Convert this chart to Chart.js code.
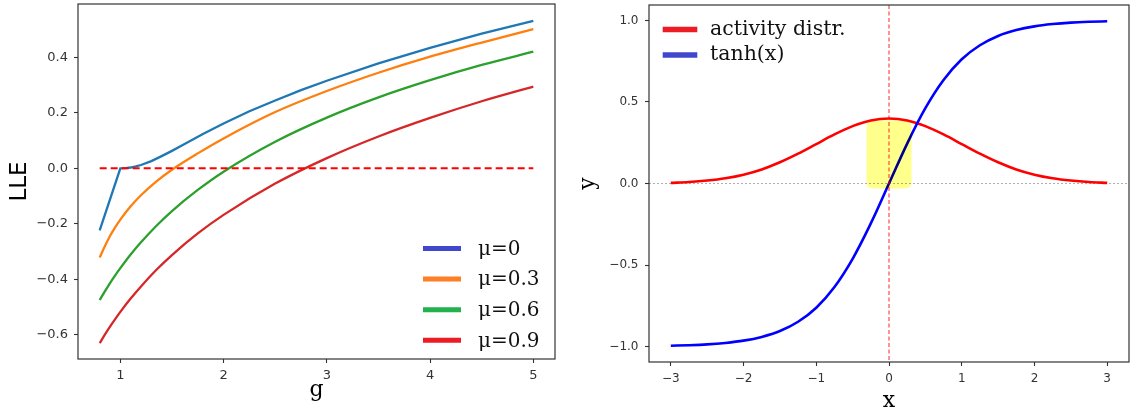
<!DOCTYPE html>
<html>
<head>
<meta charset="utf-8">
<script src="https://cdn.jsdelivr.net/npm/chart.js@4.4.1/dist/chart.umd.min.js"></script>
<style>
  html, body { margin: 0; padding: 0; background: #fff; }
  #wrap { position: relative; width: 1130px; height: 407px; overflow: hidden; }
  .panel { position: absolute; top: 0; width: 565px; height: 407px; }
  #left { left: 0; }
  #right { left: 565px; }
</style>
</head>
<body>
<div id="wrap">
  <div class="panel" id="left"><canvas id="lle" width="565" height="407"></canvas></div>
  <div class="panel" id="right"><canvas id="act" width="565" height="407"></canvas></div>
</div>
<script>
// ---- Left panel: largest Lyapunov exponent against the gain g ----
const gSmooth = [0.8, 0.85, 0.9, 0.95, 1.0, 1.1, 1.2, 1.35, 1.5, 1.75, 2.0, 2.5, 3.0, 3.5, 4.0, 4.5, 5.0];
const lleMu03 = [-0.322, -0.281, -0.244, -0.213, -0.185, -0.137, -0.097, -0.047, -0.005, 0.054, 0.108, 0.203, 0.279, 0.345, 0.403, 0.454, 0.502];
const lleMu06 = [-0.475, -0.444, -0.414, -0.386, -0.360, -0.311, -0.267, -0.207, -0.154, -0.078, -0.012, 0.096, 0.183, 0.256, 0.318, 0.373, 0.421];
const lleMu09 = [-0.631, -0.600, -0.571, -0.544, -0.518, -0.470, -0.426, -0.366, -0.313, -0.235, -0.168, -0.055, 0.037, 0.115, 0.182, 0.242, 0.295];
// mu = 0 has a corner at g = 1, so it is sampled on its own grid and drawn with straight segments
const gMu0 = [0.8, 1.0, 1.05, 1.1, 1.15, 1.2, 1.3, 1.4, 1.5, 1.6, 1.8, 2.0, 2.25, 2.5, 2.75, 3.0, 3.5, 4.0, 4.5, 5.0];
const lleMu0 = [-0.224, 0.0, 0.001, 0.003, 0.007, 0.012, 0.026, 0.044, 0.063, 0.083, 0.124, 0.162, 0.206, 0.245, 0.282, 0.316, 0.379, 0.435, 0.486, 0.532];

const muLabels = ['\u03bc=0', '\u03bc=0.3', '\u03bc=0.6', '\u03bc=0.9'];
const lineColors = ['#1f77b4', '#ff7f0e', '#2ca02c', '#d62728'];
const legendColors = ['#3f48cc', '#ff7f27', '#22b14c', '#ed1c24'];

const gTicks = [1, 2, 3, 4, 5];
const gTickLabels = ['1', '2', '3', '4', '5'];
const lleTicks = [-0.6, -0.4, -0.2, 0.0, 0.2, 0.4];
const lleTickLabels = ['\u22120.6', '\u22120.4', '\u22120.2', '0.0', '0.2', '0.4'];
const lleThreshold = 0.0;

// ---- Right panel: activity distribution and the tanh nonlinearity ----
const xGrid = [-3, -2.75, -2.5, -2.25, -2, -1.75, -1.5, -1.25, -1, -0.75, -0.5, -0.25, 0,
               0.25, 0.5, 0.75, 1, 1.25, 1.5, 1.75, 2, 2.25, 2.5, 2.75, 3];
const activityDistr = [0.004, 0.009, 0.018, 0.032, 0.054, 0.086, 0.130, 0.183, 0.242, 0.301, 0.352, 0.387, 0.399,
                       0.387, 0.352, 0.301, 0.242, 0.183, 0.130, 0.086, 0.054, 0.032, 0.018, 0.009, 0.004];
const tanhValues = [-0.995, -0.992, -0.987, -0.978, -0.964, -0.941, -0.905, -0.848, -0.762, -0.635, -0.462, -0.245, 0.0,
                    0.245, 0.462, 0.635, 0.762, 0.848, 0.905, 0.941, 0.964, 0.978, 0.987, 0.992, 0.995];
const actLabels = ['activity distr.', 'tanh(x)'];
const actLineColors = ['#ff0000', '#0000ff'];
const actLegendColors = ['#ed1c24', '#3f48cc'];

const xTicks = [-3, -2, -1, 0, 1, 2, 3];
const xTickLabels = ['\u22123', '\u22122', '\u22121', '0', '1', '2', '3'];
const yTicks = [-1.0, -0.5, 0.0, 0.5, 1.0];
const yTickLabels = ['\u22121.0', '\u22120.5', '0.0', '0.5', '1.0'];

// near-linear band of tanh around the origin
const bandX = [-0.31, 0.31];
const bandY = [-0.031, 0.387];
const centreX = 0.0;
const baselineY = 0.0;

const pairs = (xs, ys) => xs.map((x, i) => ({ x: x, y: ys[i] }));

// full box around the plotting area
const frame = {
  id: 'frame',
  afterDraw(chart, args, o) {
    const { ctx, chartArea: a } = chart;
    ctx.save();
    ctx.strokeStyle = o.color;
    ctx.lineWidth = o.width;
    ctx.strokeRect(a.left, a.top, a.right - a.left, a.bottom - a.top);
    ctx.restore();
  }
};

// legend drawn inside the axes, without a box
const inlineLegend = {
  id: 'inlineLegend',
  afterDraw(chart, args, o) {
    const { ctx, chartArea: a } = chart;
    ctx.save();
    ctx.font = o.size + 'px ' + o.family;
    ctx.textBaseline = 'middle';
    ctx.textAlign = 'left';
    o.labels.forEach((text, i) => {
      const y = a.top + o.top + i * o.step;
      const x0 = a.left + o.left;
      ctx.strokeStyle = o.colors[i];
      ctx.lineWidth = o.lineWidth;
      ctx.lineCap = 'butt';
      ctx.beginPath();
      ctx.moveTo(x0, y);
      ctx.lineTo(x0 + o.swatch, y);
      ctx.stroke();
      ctx.fillStyle = o.textColor;
      ctx.fillText(text, x0 + o.swatch + o.gap, y + o.textShift);
    });
    ctx.restore();
  }
};

// reference lines and the highlighted band on the right panel
const guides = {
  id: 'guides',
  beforeDatasetsDraw(chart) {
    const { ctx, chartArea: a, scales } = chart;
    const y0 = scales.y.getPixelForValue(baselineY);
    ctx.save();
    ctx.strokeStyle = 'rgba(0,0,0,0.4)';
    ctx.lineWidth = 0.8;
    ctx.setLineDash([2, 2]);
    ctx.beginPath();
    ctx.moveTo(a.left, y0);
    ctx.lineTo(a.right, y0);
    ctx.stroke();
    ctx.restore();
  },
  afterDatasetsDraw(chart) {
    const { ctx, chartArea: a, scales } = chart;
    const xc = scales.x.getPixelForValue(centreX);
    ctx.save();
    ctx.strokeStyle = 'rgba(255,0,0,0.65)';
    ctx.lineWidth = 1.3;
    ctx.setLineDash([4, 2.5]);
    ctx.beginPath();
    ctx.moveTo(xc, a.top);
    ctx.lineTo(xc, a.bottom);
    ctx.stroke();
    ctx.restore();

    const l = scales.x.getPixelForValue(bandX[0]);
    const r = scales.x.getPixelForValue(bandX[1]);
    const t = scales.y.getPixelForValue(bandY[1]);
    const b = scales.y.getPixelForValue(bandY[0]);
    const rad = 7;
    ctx.save();
    ctx.globalCompositeOperation = 'multiply';
    ctx.fillStyle = 'rgb(255,255,140)';
    ctx.beginPath();
    ctx.moveTo(l + rad, t);
    ctx.lineTo(r - rad, t);
    ctx.quadraticCurveTo(r, t, r, t + rad);
    ctx.lineTo(r, b - rad);
    ctx.quadraticCurveTo(r, b, r - rad, b);
    ctx.lineTo(l + rad, b);
    ctx.quadraticCurveTo(l, b, l, b - rad);
    ctx.lineTo(l, t + rad);
    ctx.quadraticCurveTo(l, t, l + rad, t);
    ctx.closePath();
    ctx.fill();
    ctx.restore();
  }
};

const tickFont = (size) => ({ family: 'DejaVu Sans', size: size });
const axisGrid = { display: true, drawOnChartArea: false, drawTicks: true, tickLength: 4, tickWidth: 1.1, tickColor: '#333' };

// fixed axis band sizes; tick labels never push the plotting area inwards
const fixY = (w) => (s) => { s.width = w; s.paddingTop = 0; s.paddingBottom = 0; };
const fixX = (h) => (s) => { s.height = h; s.paddingLeft = 0; s.paddingRight = 0; };

new Chart(document.getElementById('lle'), {
  type: 'line',
  data: {
    datasets: [
      { label: muLabels[0], data: pairs(gMu0, lleMu0), borderColor: lineColors[0], borderWidth: 2.3, tension: 0, order: 4 },
      { label: muLabels[1], data: pairs(gSmooth, lleMu03), borderColor: lineColors[1], borderWidth: 2.3, cubicInterpolationMode: 'monotone', order: 3 },
      { label: muLabels[2], data: pairs(gSmooth, lleMu06), borderColor: lineColors[2], borderWidth: 2.3, cubicInterpolationMode: 'monotone', order: 2 },
      { label: muLabels[3], data: pairs(gSmooth, lleMu09), borderColor: lineColors[3], borderWidth: 2.3, cubicInterpolationMode: 'monotone', order: 1 },
      { label: 'threshold', data: [{ x: gSmooth[0], y: lleThreshold }, { x: gSmooth[gSmooth.length - 1], y: lleThreshold }],
        borderColor: '#ff0000', borderWidth: 2, borderDash: [7, 4], tension: 0, order: 0 }
    ]
  },
  options: {
    responsive: false,
    animation: false,
    devicePixelRatio: 1,
    elements: { point: { radius: 0 }, line: { fill: false, borderCapStyle: 'butt' } },
    layout: { autoPadding: false, padding: { left: 0, top: 4, right: 10, bottom: 0 } },
    plugins: {
      legend: { display: false },
      tooltip: { enabled: false },
      frame: { color: '#333', width: 1.2 },
      inlineLegend: {
        labels: muLabels, colors: legendColors, family: '"DejaVu Serif"', size: 20, textColor: '#111',
        left: 345, top: 244.5, step: 30.6, swatch: 38, gap: 17, lineWidth: 5, textShift: 1
      }
    },
    scales: {
      x: {
        type: 'linear', min: 0.59, max: 5.21,
        afterFit: fixX(48),
        afterBuildTicks: (s) => { s.ticks = gTicks.map(v => ({ value: v })); },
        ticks: { font: tickFont(13), color: '#333', padding: 5, maxRotation: 0, callback: (v, i) => gTickLabels[i] },
        grid: axisGrid,
        border: { display: false },
        title: { display: true, text: 'g', color: '#000', font: { family: 'DejaVu Serif', size: 22 }, padding: { top: 0, bottom: 4 } }
      },
      y: {
        type: 'linear', min: -0.688, max: 0.593,
        afterFit: fixY(78),
        afterBuildTicks: (s) => { s.ticks = lleTicks.map(v => ({ value: v })); },
        ticks: { font: tickFont(13), color: '#333', padding: 6, callback: (v, i) => lleTickLabels[i] },
        grid: axisGrid,
        border: { display: false },
        title: { display: true, text: 'LLE', color: '#000', font: { family: 'DejaVu Sans', size: 23 }, padding: { top: 6, bottom: 0 } }
      }
    }
  },
  plugins: [frame, inlineLegend]
});

new Chart(document.getElementById('act'), {
  type: 'line',
  data: {
    datasets: [
      { label: actLabels[0], data: pairs(xGrid, activityDistr), borderColor: actLineColors[0], borderWidth: 2.6, cubicInterpolationMode: 'monotone', order: 1 },
      { label: actLabels[1], data: pairs(xGrid, tanhValues), borderColor: actLineColors[1], borderWidth: 2.6, cubicInterpolationMode: 'monotone', order: 0 }
    ]
  },
  options: {
    responsive: false,
    animation: false,
    devicePixelRatio: 1,
    elements: { point: { radius: 0 }, line: { fill: false } },
    layout: { autoPadding: false, padding: { left: 0, top: 5, right: 1, bottom: 0 } },
    plugins: {
      legend: { display: false },
      tooltip: { enabled: false },
      frame: { color: '#333', width: 1.2 },
      inlineLegend: {
        labels: actLabels, colors: actLegendColors, family: '"DejaVu Serif"', size: 20.5, textColor: '#111',
        left: 13.7, top: 24.4, step: 25.6, swatch: 34.6, gap: 12.7, lineWidth: 5.5, textShift: 0
      }
    },
    scales: {
      x: {
        type: 'linear', min: -3.3, max: 3.3,
        afterFit: fixX(45),
        afterBuildTicks: (s) => { s.ticks = xTicks.map(v => ({ value: v })); },
        ticks: { font: tickFont(12), color: '#333', padding: 5.5, maxRotation: 0, callback: (v, i) => xTickLabels[i] },
        grid: axisGrid,
        border: { display: false },
        title: { display: true, text: 'x', color: '#000', font: { family: 'DejaVu Serif', size: 22, lineHeight: 0.5 }, padding: { top: 0, bottom: 0 } }
      },
      y: {
        type: 'linear', min: -1.095, max: 1.095,
        afterFit: fixY(84),
        afterBuildTicks: (s) => { s.ticks = yTicks.map(v => ({ value: v })); },
        ticks: { font: tickFont(12), color: '#333', padding: 6.5, callback: (v, i) => yTickLabels[i] },
        grid: axisGrid,
        border: { display: false },
        title: { display: true, text: 'y', color: '#000', font: { family: 'DejaVu Serif', size: 22 }, padding: { top: 10, bottom: 0 } }
      }
    }
  },
  plugins: [guides, frame, inlineLegend]
});
</script>
</body>
</html>
